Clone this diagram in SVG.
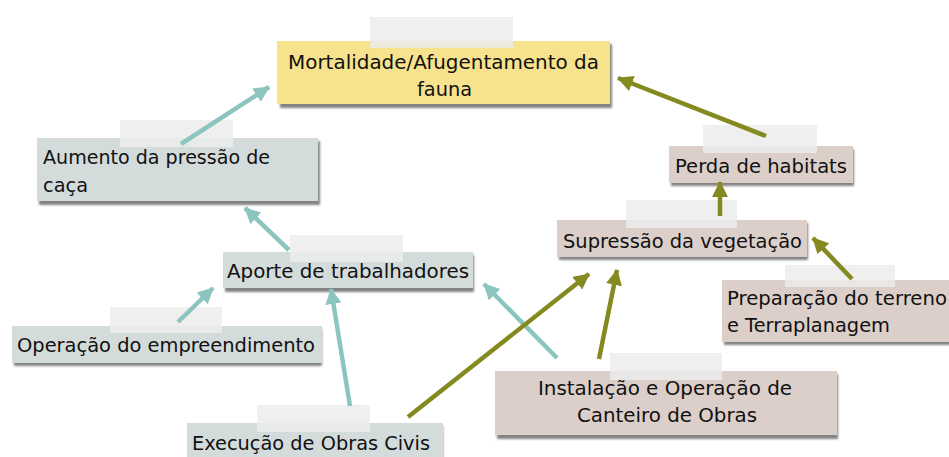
<svg xmlns="http://www.w3.org/2000/svg" width="949" height="457" viewBox="0 0 949 457">
<defs>
<filter id="sh" x="-5%" y="-20%" width="110%" height="160%"><feGaussianBlur stdDeviation="1.2"/></filter>
<marker id="mt" markerUnits="userSpaceOnUse" markerWidth="18" markerHeight="16" refX="15" refY="8" orient="auto"><path d="M0,0 L16,8 L0,16 z" fill="#8cc5bf"/></marker>
<marker id="mo" markerUnits="userSpaceOnUse" markerWidth="18" markerHeight="16" refX="15" refY="8" orient="auto"><path d="M0,0 L16,8 L0,16 z" fill="#858a20"/></marker>
</defs>
<style>
.shadow{fill:#5a5a5a;opacity:0.75;filter:url(#sh)}
.y{fill:#f7e28d}
.g{fill:#d4dbdb}
.p{fill:#dccfc9}
.tape{fill:#ececec;opacity:0.85}
text{font-family:"DejaVu Sans","Liberation Sans",sans-serif;font-size:20px;fill:#111111}
.t{stroke:#8cc5bf;stroke-width:4.5;fill:none;marker-end:url(#mt)}
.o{stroke:#858a20;stroke-width:4.5;fill:none;marker-end:url(#mo)}
</style>
<rect width="949" height="457" fill="#ffffff"/>

<g id="n1">
<rect class="shadow" x="280" y="44" width="332" height="64"/>
<rect class="y" x="277" y="41" width="333" height="63"/>
<rect class="tape" x="370" y="17" width="143" height="31"/>
<text x="288" y="69" textLength="311" lengthAdjust="spacingAndGlyphs">Mortalidade/Afugentamento da</text>
<text x="417" y="96" textLength="55" lengthAdjust="spacingAndGlyphs">fauna</text>
</g>

<g id="n2">
<rect class="shadow" x="39" y="141" width="281" height="64"/>
<rect class="g" x="37" y="138" width="281" height="63"/>
<rect class="tape" x="120" y="120" width="113" height="27"/>
<text x="43" y="164" textLength="227" lengthAdjust="spacingAndGlyphs">Aumento da pressão de</text>
<text x="43" y="192" textLength="45" lengthAdjust="spacingAndGlyphs">caça</text>
</g>

<g id="n3">
<rect class="shadow" x="225" y="255" width="249" height="37"/>
<rect class="g" x="223" y="252" width="250" height="36"/>
<rect class="tape" x="290" y="235" width="113" height="27"/>
<text x="227" y="278" textLength="242" lengthAdjust="spacingAndGlyphs">Aporte de trabalhadores</text>
</g>

<g id="n4">
<rect class="shadow" x="14" y="329" width="308" height="37"/>
<rect class="g" x="12" y="326" width="310" height="37"/>
<rect class="tape" x="110" y="307" width="112" height="26"/>
<text x="17" y="352" textLength="298" lengthAdjust="spacingAndGlyphs">Operação do empreendimento</text>
</g>

<g id="n5">
<rect class="shadow" x="189" y="426" width="254" height="40"/>
<rect class="g" x="187" y="423" width="256" height="40"/>
<rect class="tape" x="257" y="405" width="113" height="27"/>
<text x="192" y="450" textLength="238" lengthAdjust="spacingAndGlyphs">Execução de Obras Civis</text>
</g>

<g id="n6">
<rect class="shadow" x="497" y="374" width="341" height="65"/>
<rect class="p" x="495" y="371" width="342" height="64"/>
<rect class="tape" x="610" y="353" width="112" height="27"/>
<text x="538" y="395" textLength="254" lengthAdjust="spacingAndGlyphs">Instalação e Operação de</text>
<text x="577" y="422" textLength="180" lengthAdjust="spacingAndGlyphs">Canteiro de Obras</text>
</g>

<g id="n7">
<rect class="shadow" x="559" y="223" width="249" height="37"/>
<rect class="p" x="557" y="220" width="250" height="37"/>
<rect class="tape" x="626" y="200" width="111" height="28"/>
<text x="563" y="248" textLength="239" lengthAdjust="spacingAndGlyphs">Supressão da vegetação</text>
</g>

<g id="n8">
<rect class="shadow" x="671" y="149" width="183" height="37"/>
<rect class="p" x="669" y="146" width="184" height="37"/>
<rect class="tape" x="703" y="125" width="114" height="28"/>
<text x="675" y="173" textLength="172" lengthAdjust="spacingAndGlyphs">Perda de habitats</text>
</g>

<g id="n9">
<rect class="shadow" x="724" y="283" width="230" height="62"/>
<rect class="p" x="722" y="280" width="230" height="62"/>
<rect class="tape" x="785" y="265" width="110" height="22"/>
<text x="727" y="305" textLength="220" lengthAdjust="spacingAndGlyphs">Preparação do terreno</text>
<text x="727" y="332" textLength="163" lengthAdjust="spacingAndGlyphs">e Terraplanagem</text>
</g>

<g id="connectors">
<line class="t" x1="181" y1="144" x2="269" y2="87"/>
<line class="t" x1="289" y1="250" x2="245" y2="208"/>
<line class="t" x1="178" y1="322" x2="213" y2="288"/>
<line class="t" x1="350" y1="406" x2="331" y2="289"/>
<line class="t" x1="557" y1="358" x2="484" y2="284"/>
<line class="o" x1="766" y1="136" x2="618" y2="78"/>
<line class="o" x1="720" y1="216" x2="720" y2="182"/>
<line class="o" x1="852" y1="279" x2="813" y2="238"/>
<line class="o" x1="408" y1="417" x2="589" y2="274"/>
<line class="o" x1="599" y1="359" x2="617" y2="270"/>
</g>
</svg>
